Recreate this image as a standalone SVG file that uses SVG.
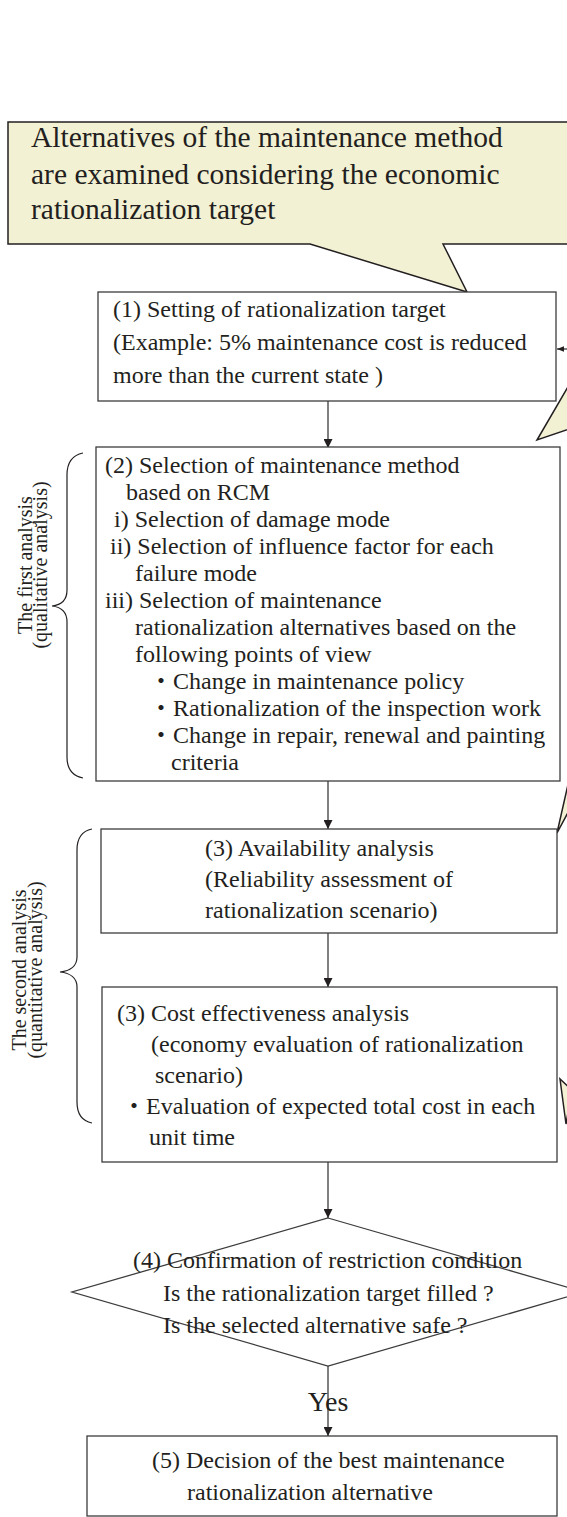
<svg xmlns="http://www.w3.org/2000/svg" width="567" height="1517" viewBox="0 0 567 1517">
<style>
text{font-family:"Liberation Serif","Noto Sans CJK JP",serif;fill:#231f20}
.t{font-size:24px}
.big{font-size:29.5px}
.side{font-size:20px}
.box{fill:#fff;stroke:#3c3c3c;stroke-width:1.3}
.call{fill:#f3f1d4;stroke:#231f20;stroke-width:1.5}
.con{fill:none;stroke:#3c3c3c;stroke-width:1.3}
.brace{fill:none;stroke:#231f20;stroke-width:1.2}
</style>
<defs>
<marker id="ah" viewBox="0 0 10 10" refX="10" refY="5" markerWidth="9" markerHeight="9" markerUnits="userSpaceOnUse" orient="auto">
<path d="M0,0 L10,5 L0,10 z" fill="#231f20"/>
</marker>
<marker id="ahs" viewBox="0 0 10 10" refX="10" refY="5" markerWidth="7" markerHeight="7" markerUnits="userSpaceOnUse" orient="auto">
<path d="M0,1 L10,5 L0,9 z" fill="#231f20"/>
</marker>
</defs>

<g id="callout-main">
<path class="call" d="M8,122 L575,122 L575,244 L443,244 L467,292 L310,244 L8,244 Z"/>
<text class="big" x="31" y="147">Alternatives of the maintenance method</text>
<text class="big" x="31" y="184">are examined considering the economic</text>
<text class="big" x="31" y="219">rationalization target</text>
</g>

<g id="callout-tails">
<polygon class="call" points="572,380 537,440 572,428"/>
<polygon class="call" points="569,780 557,833 572,805"/>
<polygon class="call" points="560,1079 566,1124 572,1090"/>
</g>

<g id="connectors">
<line class="con" x1="328" y1="401" x2="328" y2="448" marker-end="url(#ah)"/>
<line class="con" x1="328" y1="781" x2="328" y2="829" marker-end="url(#ah)"/>
<line class="con" x1="328" y1="933" x2="328" y2="987" marker-end="url(#ah)"/>
<line class="con" x1="328" y1="1162" x2="328" y2="1218" marker-end="url(#ah)"/>
<line class="con" x1="328" y1="1366" x2="328" y2="1436" marker-end="url(#ah)"/>
<line class="con" x1="567" y1="349" x2="557" y2="349" marker-end="url(#ahs)"/>
</g>

<g id="node1">
<rect class="box" x="98" y="292" width="458" height="109"/>
<text class="t" x="113" y="317">(1) Setting of rationalization target</text>
<text class="t" x="113" y="350">(Example: 5% maintenance cost is reduced</text>
<text class="t" x="113" y="383">more than the current state )</text>
</g>

<g id="node2">
<rect class="box" x="96" y="447" width="464" height="334"/>
<text class="t" x="105" y="473">(2) Selection of maintenance method</text>
<text class="t" x="126" y="500">based on RCM</text>
<text class="t" x="114" y="527">i) Selection of damage mode</text>
<text class="t" x="110" y="554">ii) Selection of influence factor for each</text>
<text class="t" x="135" y="581">failure mode</text>
<text class="t" x="105" y="608">iii) Selection of maintenance</text>
<text class="t" x="135" y="635">rationalization alternatives based on the</text>
<text class="t" x="135" y="662">following points of view</text>
<text class="t" y="689"><tspan x="149">・</tspan><tspan x="173">Change in maintenance policy</tspan></text>
<text class="t" y="716"><tspan x="149">・</tspan><tspan x="173">Rationalization of the inspection work</tspan></text>
<text class="t" y="743"><tspan x="149">・</tspan><tspan x="173">Change in repair, renewal and painting</tspan></text>
<text class="t" x="171" y="770">criteria</text>
</g>

<g id="node3">
<rect class="box" x="101" y="829" width="456" height="104"/>
<text class="t" x="205" y="856">(3) Availability analysis</text>
<text class="t" x="205" y="887">(Reliability assessment of</text>
<text class="t" x="205" y="918">rationalization scenario)</text>
</g>

<g id="node4">
<rect class="box" x="102" y="987" width="455" height="175"/>
<text class="t" x="117" y="1021">(3) Cost effectiveness analysis</text>
<text class="t" x="151" y="1052">(economy evaluation of rationalization</text>
<text class="t" x="155" y="1083">scenario)</text>
<text class="t" y="1114"><tspan x="122">・</tspan><tspan x="146">Evaluation of expected total cost in each</tspan></text>
<text class="t" x="149" y="1145">unit time</text>
</g>

<g id="node5">
<polygon class="box" points="328,1218 584,1292 328,1366 72,1292"/>
<text class="t" x="133" y="1268">(4) Confirmation of restriction condition</text>
<text class="t" x="163" y="1301">Is the rationalization target filled ?</text>
<text class="t" x="163" y="1333">Is the selected alternative safe ?</text>
</g>

<g id="label-yes">
<text x="328" y="1411" text-anchor="middle" style="font-size:28px">Yes</text>
</g>

<g id="node6">
<rect class="box" x="87" y="1436" width="470" height="80"/>
<text class="t" x="152" y="1468">(5) Decision of the best maintenance</text>
<text class="t" x="187" y="1500">rationalization alternative</text>
</g>

<g id="brace1">
<path class="brace" d="M83,453 C73,455 67,462 67,475 L67,590 C67,600 61,605 52,606 C61,607 67,612 67,622 L67,757 C67,770 73,776 83,778"/>
<text class="side" text-anchor="middle" transform="translate(32,565) rotate(-90)">The first analysis</text>
<text class="side" text-anchor="middle" transform="translate(47,565) rotate(-90)">(qualitative analysis)</text>
</g>

<g id="brace2">
<path class="brace" d="M92,829 C82,831 77,838 77,850 L77,957 C77,966 70,971 60,972 C70,973 77,978 77,987 L77,1102 C77,1115 82,1121 92,1123"/>
<text class="side" text-anchor="middle" transform="translate(26,970) rotate(-90)">The second analysis</text>
<text class="side" text-anchor="middle" transform="translate(42,970) rotate(-90)">(quantitative analysis)</text>
</g>
</svg>
